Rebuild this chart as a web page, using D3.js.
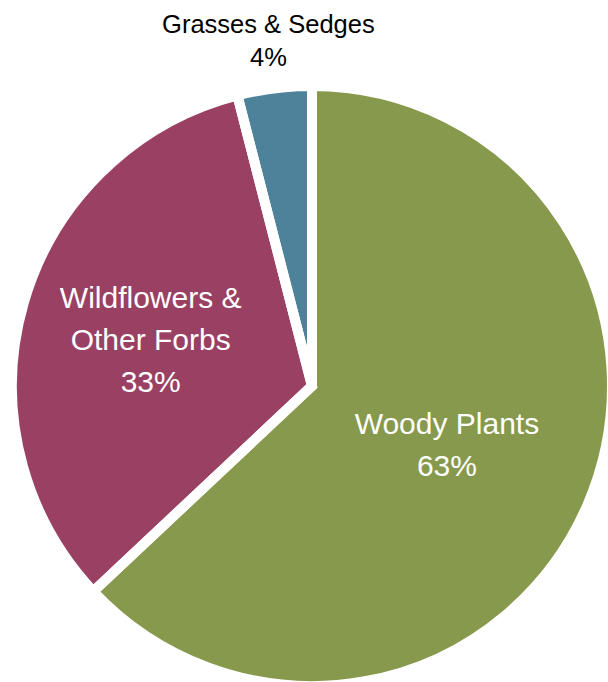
<!DOCTYPE html>
<html>
<head>
<meta charset="utf-8">
<script src="https://cdn.jsdelivr.net/npm/d3@7"></script>
<style>
  body { margin: 0; background: #fff; }
  svg { display: block; }
  text { font-family: "Liberation Sans", Arial, sans-serif; }
</style>
</head>
<body>
<div id="chart"></div>
<script>
// plant groups, clockwise from 12 o'clock
var categories = ["Woody Plants", "Wildflowers & Other Forbs", "Grasses & Sedges"];
var values = [63, 33, 4];
var labelLines = [["Woody Plants"], ["Wildflowers &", "Other Forbs"], ["Grasses & Sedges"]];
var colors = ["#86994c", "#9a4063", "#4e819a"];

var width = 608, height = 682;
var cx = 312, cy = 386;
var radius = 300;   // includes half of the white gap stroke
var gap = 10;

// how far out each label sits, as a share of the radius
var labelPos = [0.49, 0.56, 1.16];
var labelColor = ["#fff", "#fff", "#000"];
var labelSize = [30, 30, 25.5];
var lineStep = [42, 42, 33];

var svg = d3.select("#chart").append("svg")
    .attr("width", width)
    .attr("height", height);

var g = svg.append("g").attr("transform", "translate(" + cx + "," + cy + ")");

var data = categories.map(function(c, i){
    return {name: c, value: values[i], lines: labelLines[i], idx: i};
});

var pie = d3.pie().sort(null).value(function(d){ return d.value; });
var arcs = pie(data);
var arc = d3.arc().innerRadius(0).outerRadius(radius);

// fills first, white separators on top
g.selectAll("path.slice")
    .data(arcs)
    .enter()
    .append("path")
    .attr("class", "slice")
    .attr("d", arc)
    .attr("fill", function(d){ return colors[d.data.idx]; });

g.selectAll("path.sep")
    .data(arcs)
    .enter()
    .append("path")
    .attr("class", "sep")
    .attr("d", arc)
    .attr("fill", "none")
    .attr("stroke", "#fff")
    .attr("stroke-width", gap)
    .attr("stroke-linejoin", "miter");

var labels = g.selectAll("text.lbl")
    .data(arcs)
    .enter()
    .append("text")
    .attr("class", "lbl")
    .attr("text-anchor", "middle")
    .attr("fill", function(d){ return labelColor[d.data.idx]; })
    .attr("font-size", function(d){ return labelSize[d.data.idx] + "px"; });

labels.each(function(d){
    var i = d.data.idx;
    var r = radius * labelPos[i];
    var p = d3.arc().innerRadius(r).outerRadius(r).centroid(d);
    var lines = d.data.lines.concat([d3.format(".0f")(d.data.value) + "%"]);
    var n = lines.length;
    var cap = labelSize[i] * 0.716 / 2;
    var t = d3.select(this);
    lines.forEach(function(s, k){
        t.append("tspan")
            .attr("x", p[0])
            .attr("y", p[1] + (k - (n - 1) / 2) * lineStep[i] + cap)
            .text(s);
    });
});
</script>
</body>
</html>
